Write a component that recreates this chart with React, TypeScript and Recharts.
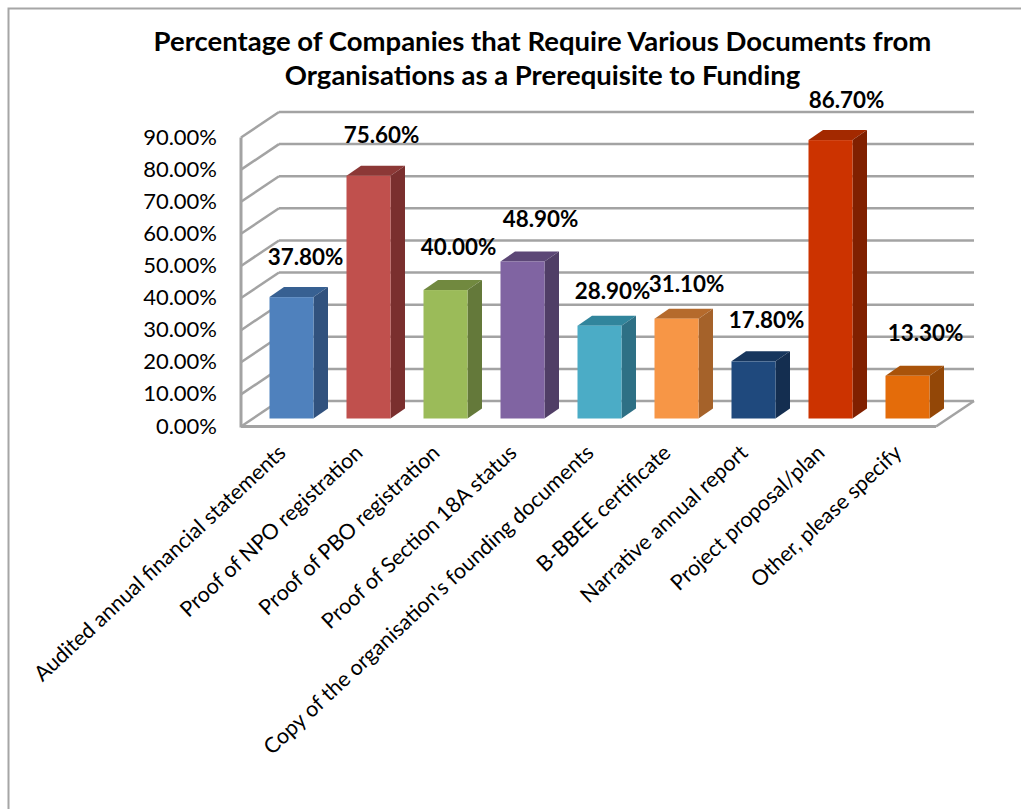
import { Bar, BarChart, CartesianGrid, LabelList, XAxis, YAxis } from "recharts";

// ─── Data ────────────────────────────────────────────────────────────────────

const CATEGORIES = [
  "Audited annual financial statements",
  "Proof of NPO registration",
  "Proof of PBO registration",
  "Proof of Section 18A status",
  "Copy of the organisation's founding documents",
  "B-BBEE certificate",
  "Narrative annual report",
  "Project proposal/plan",
  "Other, please specify",
];
const VALUES = [37.8, 75.6, 40.0, 48.9, 28.9, 31.1, 17.8, 86.7, 13.3];
const Y_TICKS = [0, 10, 20, 30, 40, 50, 60, 70, 80, 90];
const TITLE_LINES = [
  "Percentage of Companies that Require Various Documents from",
  "Organisations as a Prerequisite to Funding",
];

// front, top, side faces of each column
const FRONT = ["#4f81bd", "#c0504d", "#9bbb59", "#8064a2", "#4bacc6", "#f79646", "#1f497d", "#cc3300", "#e46c0a"];
const TOP = ["#376092", "#8c3836", "#71893f", "#5c4776", "#31859c", "#b56a2c", "#17365d", "#a32900", "#a9530a"];
const SIDE = ["#31527e", "#7a2f2e", "#64793a", "#503e66", "#2e7085", "#a5622a", "#142e50", "#802000", "#934707"];

const rows = CATEGORIES.map((name, i) => ({ name, value: VALUES[i] }));

// ─── Layout ──────────────────────────────────────────────────────────────────

const WIDTH = 1021;
const HEIGHT = 809;
const FONT = "Lato, Carlito, sans-serif";
const GRID = "#a3a3a3";

const PLOT_LEFT = 252.5;
const PLOT_WIDTH = 693;
const PLOT_TOP = 129.5;
const PLOT_BOTTOM = 418.5;

// fake-3D offsets measured from the plane the columns stand on
const FRONT_DX = -11.5;
const FRONT_DY = 8;
const BACK_DX_LEFT = 26.5;
const BACK_DX_RIGHT = 28.5;
const BACK_DY = -17.5;
const BAR_DX = 14.5;
const BAR_DY = -10;

// labels sit above and to the right of their column, a little unevenly
const LABEL_DX = [14, 13, 13, 18, 13, 10, 13, 16, 18];
const LABEL_DY = [-40, -41, -43, -42, -35, -35, -41, -40, -43];

// ─── Shapes ──────────────────────────────────────────────────────────────────

function Column(props: any) {
  const { x, y, width, height, index } = props;
  const r = x + width;
  const b = y + height;
  return (
    <g>
      <polygon
        points={`${x},${y} ${x + BAR_DX},${y + BAR_DY} ${r + BAR_DX},${y + BAR_DY} ${r},${y}`}
        fill={TOP[index]}
      />
      <polygon
        points={`${r},${y} ${r + BAR_DX},${y + BAR_DY} ${r + BAR_DX},${b + BAR_DY} ${r},${b}`}
        fill={SIDE[index]}
      />
      <rect x={x} y={y} width={width} height={height} fill={FRONT[index]} />
    </g>
  );
}

function WallLine(props: any) {
  const { x1, x2, y1 } = props;
  const y = y1;
  const frontX = x1 + FRONT_DX;
  const backY = y + BACK_DY;
  const backL = x1 + BACK_DX_LEFT;
  const backR = x2 + BACK_DX_RIGHT;
  const isFloor = Math.abs(y - PLOT_BOTTOM) < 0.5;
  return (
    <g fill="none" stroke={GRID} strokeWidth={2.5}>
      <line x1={frontX} y1={y + FRONT_DY} x2={backL} y2={backY} />
      <line x1={backL} y1={backY} x2={backR} y2={backY} />
      {isFloor && (
        <>
          <line x1={backR} y1={backY} x2={backR - 38} y2={y + FRONT_DY} />
          <line x1={frontX} y1={y + FRONT_DY} x2={backR - 38} y2={y + FRONT_DY} strokeWidth={3} />
          <line x1={frontX} y1={PLOT_TOP + FRONT_DY} x2={frontX} y2={y + FRONT_DY + 1} strokeWidth={3} />
        </>
      )}
    </g>
  );
}

function ValueTick(props: any) {
  const { y, payload } = props;
  return (
    <text x={217} y={y + FRONT_DY + 7} textAnchor="end" fontFamily={FONT} fontSize={22} fill="#000">
      {payload.value.toFixed(2)}%
    </text>
  );
}

function CategoryTick(props: any) {
  const { x, y, payload } = props;
  const ax = x - 4;
  const ay = y + 28;
  return (
    <text
      x={ax}
      y={ay}
      textAnchor="end"
      transform={`rotate(-43 ${ax} ${ay})`}
      fontFamily={FONT}
      fontSize={21.4}
      fill="#000"
    >
      {payload.value}
    </text>
  );
}

function ValueLabel(props: any) {
  const { x, y, width, index, value } = props;
  return (
    <text
      x={x + width / 2 + LABEL_DX[index]}
      y={y + LABEL_DY[index] + 8}
      textAnchor="middle"
      fontFamily={FONT}
      fontSize={22.4}
      fontWeight={700}
      fill="#000"
    >
      {value.toFixed(2)}%
    </text>
  );
}

// ─── Chart ───────────────────────────────────────────────────────────────────

export default function App() {
  return (
    <div style={{ position: "absolute", left: 0, top: 0, width: WIDTH, height: HEIGHT, background: "#fff" }}>
      <BarChart
        width={WIDTH}
        height={HEIGHT}
        data={rows}
        margin={{ top: PLOT_TOP, right: WIDTH - PLOT_LEFT - PLOT_WIDTH, bottom: 0, left: 0 }}
      >
        <path d="M8.5 809V8.5H1021" fill="none" stroke="#a6a6a6" strokeWidth={2} />
        {TITLE_LINES.map((line, i) => (
          <text
            key={line}
            x={542.5}
            y={51 + i * 34}
            textAnchor="middle"
            fontFamily={FONT}
            fontSize={27.5}
            fontWeight={700}
            fill="#000"
          >
            {line}
          </text>
        ))}
        <CartesianGrid vertical={false} horizontal={(p: any) => <WallLine key={p.key ?? p.y1} {...p} />} />
        <XAxis
          dataKey="name"
          interval={0}
          axisLine={false}
          tickLine={false}
          height={HEIGHT - PLOT_BOTTOM}
          tick={<CategoryTick />}
        />
        <YAxis
          width={PLOT_LEFT}
          domain={[0, 90]}
          ticks={Y_TICKS}
          axisLine={false}
          tickLine={false}
          tick={<ValueTick />}
        />
        <Bar dataKey="value" barSize={44} shape={<Column />} isAnimationActive={false}>
          <LabelList dataKey="value" content={<ValueLabel />} />
        </Bar>
      </BarChart>
    </div>
  );
}
